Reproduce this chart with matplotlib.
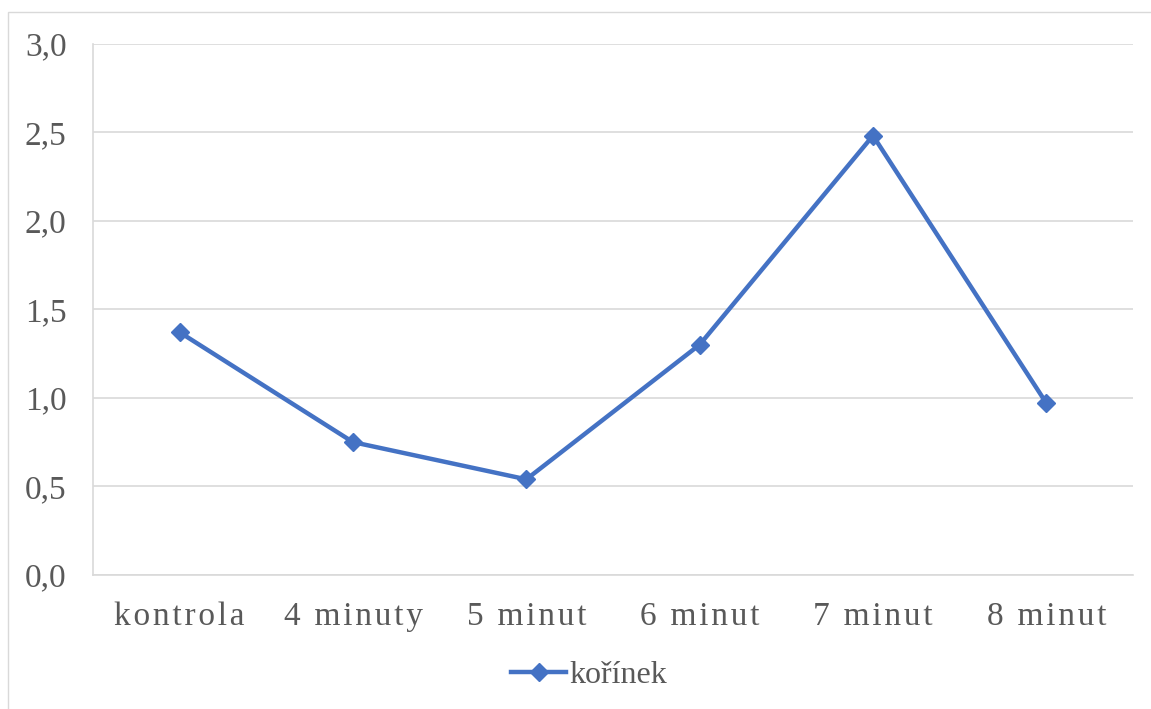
import numpy as np
import matplotlib.pyplot as plt
from matplotlib.patches import Rectangle

categories = ["kontrola", "4 minuty", "5 minut", "6 minut", "7 minut", "8 minut"]
korinek = [1.37, 0.75, 0.54, 1.30, 2.48, 0.97]
yticks = [0.0, 0.5, 1.0, 1.5, 2.0, 2.5, 3.0]
series_name = "kořínek"

blue = "#4472C4"
grid_gray = "#d9d9d9"
text_gray = "#595959"

plt.rcParams['font.family'] = ['Liberation Serif', 'DejaVu Serif']

def spaced(s):
    # Excel-style letter spacing, approximated with hair spaces
    return "\u200a".join(s)

fig = plt.figure(figsize=(11.51, 7.09), dpi=100)

# outer chart border (only left/top visible in the crop)
fig.patches.append(Rectangle((8 / 1151, -0.1), 1.2, 1 - 12.3 / 709 + 0.1,
                             transform=fig.transFigure, fill=False,
                             edgecolor=grid_gray, linewidth=1.0))

ax = fig.add_axes([93 / 1151, 1 - 575 / 709, (1133 - 93) / 1151, (575 - 43.5) / 709])

x = np.arange(len(categories))
ax.plot(x, korinek, color=blue, linewidth=3.2, marker='D', markersize=9.5,
        label=series_name, solid_joinstyle='round')

ax.set_xlim(-0.5, len(categories) - 0.5)
ax.set_ylim(0, 3.0)
ax.set_yticks(yticks)
ax.set_yticklabels([f"{v:.1f}".replace(".", ",") for v in yticks])
ax.set_xticks(x)
ax.set_xticklabels([spaced(c) for c in categories])
ax.tick_params(axis='both', length=0, labelsize=24, colors=text_gray)
ax.tick_params(axis='y', pad=19)
ax.tick_params(axis='x', pad=19)

ax.grid(axis='y', color=grid_gray, linewidth=1.2)
ax.set_axisbelow(True)
for side in ['top', 'right']:
    ax.spines[side].set_visible(False)
for side in ['left', 'bottom']:
    ax.spines[side].set_color(grid_gray)
    ax.spines[side].set_linewidth(1.2)

leg = fig.legend(loc='center', bbox_to_anchor=(589 / 1151, 1 - 675 / 709),
                 frameon=False, fontsize=23, handlelength=1.75, handletextpad=0.1,
                 labelcolor=text_gray)

fig.savefig("out.png", dpi=100)
